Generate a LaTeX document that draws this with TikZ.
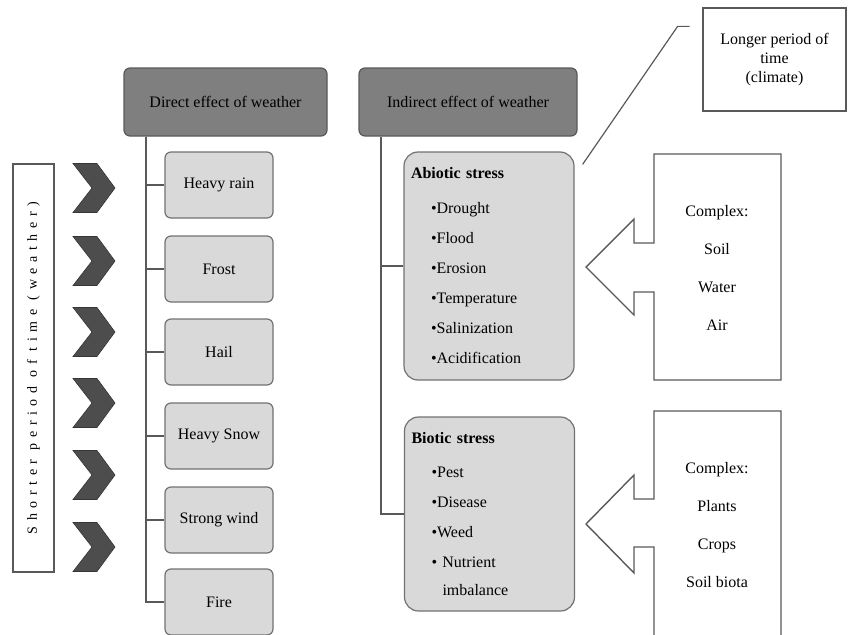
\documentclass[tikz,border=0pt]{standalone}
\usepackage{fontspec}
\setmainfont{Liberation Serif}
\usetikzlibrary{positioning}

\definecolor{hdrfill}{HTML}{7F7F7F}
\definecolor{boxfill}{HTML}{D9D9D9}
\definecolor{edgegray}{HTML}{595959}
\definecolor{chevfill}{HTML}{4D4D4D}

\tikzset{
  every node/.style={font=\fontsize{16}{18}\selectfont},
  header/.style={draw=edgegray, fill=hdrfill, rounded corners=6pt, line width=1.2pt,
    minimum width=203pt, minimum height=68pt},
  weatherbox/.style={draw=edgegray!85, fill=boxfill, rounded corners=6pt, line width=1.2pt,
    minimum width=108pt, minimum height=66pt},
  stressbox/.style={draw=edgegray!85, fill=boxfill, rounded corners=14pt, line width=1.2pt,
    minimum width=170pt, align=left, text width=156pt, inner xsep=7pt,
    font=\fontsize{16}{30}\selectfont},
  tree/.style={draw=edgegray, line width=1.5pt},
  complexbox/.style={draw=edgegray, line width=1.4pt},
  complextext/.style={align=center, font=\fontsize{16}{38}\selectfont},
  chevron/.style={fill=chevfill, draw=chevfill!70!black, line width=0.6pt}
}

\begin{document}
\begin{tikzpicture}[x=1pt,y=-1pt]
  \useasboundingbox (0,0) rectangle (848,634);

  % left label and chevrons
  \node[draw=edgegray, line width=1.2pt, rotate=90, minimum width=408pt, minimum height=41pt,
    font=\fontsize{14}{16}\selectfont\addfontfeature{LetterSpace=40}] (shorter) at (33.5,368)
    {Shorter period of time (weather)};
  \foreach \y in {188,261,332,403,475,547}
    \draw[chevron] (73,\y-24.5) -- (97,\y-24.5) -- (115,\y) -- (97,\y+24.5)
      -- (73,\y+24.5) -- (92,\y) -- cycle;

  % headers
  \node[header] (direct) at (225.5,102) {Direct effect of weather};
  \node[header, minimum width=218pt] (indirect) at (468,102) {Indirect effect of weather};

  % direct effects
  \foreach \name/\txt/\y in {rain/Heavy rain/185, frost/Frost/269, hail/Hail/352,
      snow/Heavy Snow/436, wind/Strong wind/520, fire/Fire/602}
    \node[weatherbox] (\name) at (219,\y) {\txt};
  \draw[tree] ([xshift=-79.5pt]direct.south) |- (fire.west);
  \foreach \name in {rain,frost,hail,snow,wind}
    \draw[tree] (\name.west) -- ++(-19,0);

  % indirect effects
  \node[stressbox, minimum height=228pt] (abiotic) at (489,266)
    {\textbf{Abiotic stress}\\[5pt]
     \hspace*{20pt}•Drought\\ \hspace*{20pt}•Flood\\ \hspace*{20pt}•Erosion\\
     \hspace*{20pt}•Temperature\\ \hspace*{20pt}•Salinization\\ \hspace*{20pt}•Acidification};
  \node[stressbox, minimum height=194pt] (biotic) at (489.5,514)
    {\textbf{Biotic stress}\\[4pt]
     \hspace*{20pt}•Pest\\ \hspace*{20pt}•Disease\\ \hspace*{20pt}•Weed\\
     \hspace*{20pt}• Nutrient\\[-2pt] \hspace*{31pt}imbalance};
  \draw[tree] ([xshift=-87pt]indirect.south) |- (biotic.west);
  \draw[tree] (abiotic.west) -- ++(-22,0);

  % climate callout
  \node[draw=edgegray, line width=1.4pt, minimum width=143pt, minimum height=103pt,
    align=center, font=\fontsize{16}{19}\selectfont] (climate) at (774.5,59.5)
    {Longer period of\\time\\(climate)};
  \draw[tree, line width=1.2pt] ([shift={(8,13)}]abiotic.north east) -- ++(95,-138)
    coordinate (bend) -- ++(12,0) coordinate (calloutend);

  % complex arrows
  \draw[complexbox] (654,154) -- (781,154) -- (781,380) -- (654,380) -- (654,292)
    -- (634,292) -- (634,315) -- (586,267) -- (634,219) -- (634,243) -- (654,243) -- cycle;
  \node[complextext] (abioticset) at (717,267.5) {Complex:\\Soil\\Water\\Air};
  \draw[complexbox] (654,640) -- (654,547) -- (634,547) -- (634,573) -- (586,524)
    -- (634,475) -- (634,499) -- (654,499) -- (654,411) -- (781,411) -- (781,640);
  \node[complextext] (bioticset) at (717,525) {Complex:\\Plants\\Crops\\Soil biota};
\end{tikzpicture}
\end{document}
